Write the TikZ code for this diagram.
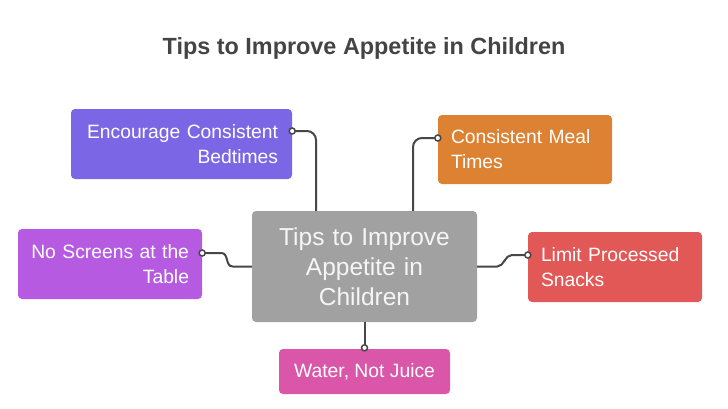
\documentclass[tikz,border=0pt]{standalone}
\usepackage{fontspec}
\setmainfont{Liberation Sans}
\usetikzlibrary{calc}
\definecolor{cEnc}{HTML}{7B67E5}
\definecolor{cScr}{HTML}{B65BE1}
\definecolor{cMeal}{HTML}{DD8232}
\definecolor{cLim}{HTML}{E25856}
\definecolor{cWat}{HTML}{D956A9}
\definecolor{cCtr}{HTML}{A1A1A1}
\definecolor{cTitle}{HTML}{444444}
\definecolor{cConn}{HTML}{474747}
\begin{document}
\begin{tikzpicture}[x=1pt,y=-1pt,
  box/.style={rectangle, rounded corners=4pt, inner sep=0pt, text=white,
    font=\fontsize{19.3}{25}\selectfont},
  conn/.style={draw=cConn, line width=2pt},
  dotst/.style={draw=cConn, fill=white, line width=1.5pt}]
\useasboundingbox (0,0) rectangle (728,408);
\fill[white] (0,0) rectangle (728,408);
\node[anchor=base, text=cTitle, font=\fontsize{23.4}{28}\selectfont\bfseries] (title) at (364,54) {Tips to Improve Appetite in Children};
\node[box, fill=cCtr, minimum width=225pt, minimum height=111pt, text width=200pt, align=center, text=white!96!black,
  font=\fontsize{24.5}{30}\selectfont] (ctr) at (364.5,266.5) {Tips to Improve\\Appetite in\\Children};
\node[box, fill=cEnc, minimum width=221pt, minimum height=70pt, text width=199pt, align=right] (enc) at (181.5,144) {Encourage Consistent\kern3pt\\Bedtimes\kern3pt};
\node[box, fill=cScr, minimum width=184pt, minimum height=70pt, text width=164pt, align=right] (scr) at (110,264) {No Screens at the\kern3pt\\Table\kern3pt};
\node[box, fill=cMeal, minimum width=174pt, minimum height=69pt, text width=148pt, align=left] (meal) at (525,149.5) {Consistent Meal\\Times};
\node[box, fill=cLim, minimum width=174pt, minimum height=70pt, text width=148pt, align=left] (lim) at (615,267) {Limit Processed\\Snacks};
\node[box, fill=cWat, minimum width=171pt, minimum height=45pt, align=center] (wat) at (364.5,371.5) {Water, Not Juice};
\coordinate (pEnc) at ($(enc.east)+(0,-13)$);
\coordinate (pMeal) at ($(meal.west)+(0,-11.5)$);
\coordinate (pScr) at ($(scr.east)+(0,-11)$);
\coordinate (pLim) at ($(lim.west)+(0,-12)$);
\coordinate (pWat) at ($(wat.north)+(0,-1)$);
\draw[conn, rounded corners=9pt] (pEnc) -| ($(ctr.north)+(-48.5,0)$);
\draw[conn, rounded corners=9pt] (pMeal) -| ($(ctr.north)+(48.5,0)$);
\draw[conn] (pScr) -- ($(pScr)+(19,0)$) .. controls ($(pScr)+(27,0)$) and ($(ctr.west)+(-27,0)$) .. ($(ctr.west)+(-19,0)$) -- (ctr.west);
\draw[conn] (ctr.east) -- ($(ctr.east)+(20,0)$) .. controls ($(ctr.east)+(27,0)$) and ($(pLim)+(-23,0)$) .. ($(pLim)+(-16,0)$) -- (pLim);
\draw[conn] (ctr.south) -- (pWat);
\foreach \p in {pEnc,pMeal,pScr,pLim,pWat} \draw[dotst] (\p) circle (3pt);
\end{tikzpicture}
\end{document}
